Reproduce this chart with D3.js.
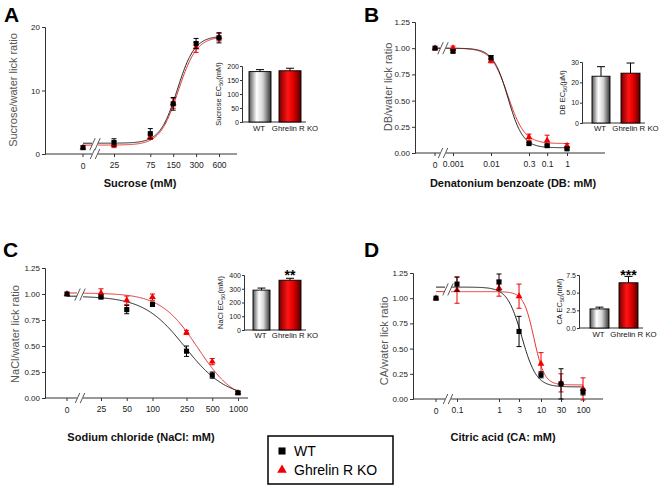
<!DOCTYPE html>
<html><head><meta charset="utf-8">
<script src="https://cdn.jsdelivr.net/npm/d3@7"></script>
<style>body{margin:0;background:#fff} svg{display:block;font-family:"Liberation Sans",Arial,sans-serif}</style>
</head><body><svg id="c" width="661" height="489"></svg>
<script>
// ---------- DATA ----------
const groups = ["WT", "Ghrelin R KO"];

// Panel A – sucrose
const sucroseConc = [0, 25, 75, 150, 300, 600];
const sucroseTickLabels = ["0", "25", "75", "150", "300", "600"];
const sucroseYTicks = [0, 10, 20];
const sucroseWT = [1.0, 1.8, 3.2, 7.9, 17.4, 18.3];
const sucroseWTErr = [0, 0.6, 0.8, 1.0, 0.8, 0.8];
const sucroseKO = [1.0, 1.5, 2.7, 8.0, 16.8, 18.4];
const sucroseKOErr = [0, 0.5, 0.4, 0.8, 0.8, 0.6];
const sucroseFitWT = [1.7, 18.6, 170, 3.8];   // low, high, EC50, hill
const sucroseFitKO = [1.4, 18.5, 175, 3.6];
const sucroseEC50 = [180, 183];
const sucroseEC50Err = [7, 9];
const sucroseEC50Ticks = [0, 50, 100, 150, 200];

// Panel B – denatonium benzoate
const dbConc = [0, 0.001, 0.01, 0.1, 0.3, 1];
const dbTickLabels = ["0", "0.001", "0.01", "0.3", "0.1", "1"];
const ratioYTicks = [0, 0.25, 0.5, 0.75, 1.0, 1.25];
const dbWT = [1.0, 0.97, 0.91, 0.09, 0.07, 0.04];
const dbWTErr = [0, 0.01, 0.02, 0.01, 0.01, 0.01];
const dbKO = [1.0, 1.0, 0.88, 0.15, 0.12, 0.07];
const dbKOErr = [0, 0.02, 0.02, 0.03, 0.05, 0.02];
const dbFitWT = [1.0, 0.05, 0.028, 2.2];
const dbFitKO = [1.0, 0.09, 0.028, 2.0];
const dbEC50 = [23, 24.5];
const dbEC50Err = [4.7, 5.0];
const dbEC50Ticks = [0, 10, 20, 30];

// Panel C – NaCl
const naclConc = [0, 25, 50, 100, 250, 500, 1000];
const naclTickLabels = ["0", "25", "50", "100", "250", "500", "1000"];
const naclWT = [1.0, 0.97, 0.85, 0.90, 0.45, 0.22, 0.05];
const naclWTErr = [0, 0.01, 0.04, 0.02, 0.05, 0.03, 0.01];
const naclKO = [1.0, 1.01, 0.94, 0.97, 0.63, 0.35, 0.05];
const naclKOErr = [0, 0.04, 0.04, 0.03, 0.02, 0.03, 0.01];
const naclFitWT = [0.98, 0.0, 240, 1.8];
const naclFitKO = [1.01, -0.05, 340, 2.0];
const naclEC50 = [290, 362];
const naclEC50Err = [15, 14];
const naclEC50Ticks = [0, 100, 200, 300, 400];

// Panel D – citric acid
const caConc = [0, 0.1, 1, 3, 10, 30, 100];
const caTickLabels = ["0", "0.1", "1", "3", "10", "30", "100"];
const caWT = [1.0, 1.14, 1.16, 0.67, 0.24, 0.15, 0.07];
const caWTErr = [0, 0.07, 0.08, 0.15, 0.03, 0.15, 0.03];
const caKO = [1.0, 1.08, 1.10, 1.02, 0.35, 0.16, 0.10];
const caKOErr = [0, 0.13, 0.08, 0.12, 0.11, 0.09, 0.11];
const caFitWT = [1.11, 0.12, 3.5, 2.5];
const caFitKO = [1.065, 0.14, 6.8, 3.5];
const caEC50 = [2.7, 6.4];
const caEC50Err = [0.25, 0.9];
const caEC50Ticks = [0, 2.5, 5.0, 7.5];

// ---------- DRAWING ----------
const RED = "#f00000", RED_LINE = "#e83030", AXIS = "#333";
const svg = d3.select("#c");
const defs = svg.append("defs");
function grad(id, stops) {
  const g = defs.append("linearGradient").attr("id", id)
    .attr("x1", "0%").attr("x2", "100%").attr("y1", "0%").attr("y2", "0%");
  stops.forEach(([o, c]) => g.append("stop").attr("offset", o).attr("stop-color", c));
}
grad("gWT", [[0, "#555"], [0.35, "#fff"], [0.62, "#d5d5d5"], [1, "#333"]]);
grad("gKO", [[0, "#700"], [0.4, "#ff1414"], [0.65, "#e00000"], [1, "#500"]]);

function logistic(p, c) {
  const [low, high, ec50, n] = p;
  return low + (high - low) / (1 + Math.pow(ec50 / c, n));
}

function styleAxis(sel, fs) {
  sel.select(".domain").attr("stroke", AXIS);
  sel.selectAll(".tick line").attr("stroke", AXIS);
  sel.selectAll(".tick text").attr("fill", "#222").attr("font-size", fs)
    .attr("font-family", '"Liberation Sans",Arial,sans-serif');
}

function breakMarks(g, bx, by, h) {
  [-2.5, 2.5].forEach(dx => {
    g.append("line").attr("x1", bx + dx - h * 0.45).attr("y1", by + h)
      .attr("x2", bx + dx + h * 0.45).attr("y2", by - h)
      .attr("stroke", "#444").attr("stroke-width", 0.9);
  });
}

function drawPanel(cfg, d) {
  const g = svg.append("g");
  const x = d3.scaleLog().domain([d.conc[1], d.conc[d.conc.length - 1]]).range(cfg.xr);
  const y = d3.scaleLinear().domain([0, d.yTicks[d.yTicks.length - 1]]).range(cfg.yr);
  const px = c => c === 0 ? cfg.zeroX : x(c);

  g.append("text").attr("x", cfg.letter[1]).attr("y", cfg.letter[2]).text(cfg.letter[0])
    .attr("font-size", 21).attr("font-weight", "bold").attr("fill", "#000");

  const ya = g.append("g").attr("transform", `translate(${cfg.yAxisX},0)`)
    .call(d3.axisLeft(y).tickValues(d.yTicks).tickFormat(d.yFmt).tickSize(3).tickPadding(2));
  styleAxis(ya, 8);

  const ay = y(0);
  g.append("line").attr("x1", cfg.yAxisX).attr("x2", cfg.breakX - 3).attr("y1", ay).attr("y2", ay).attr("stroke", AXIS);
  g.append("line").attr("x1", cfg.breakX + 3).attr("x2", cfg.axisEnd).attr("y1", ay).attr("y2", ay).attr("stroke", AXIS);
  breakMarks(g, cfg.breakX, ay, 5);

  const xa = g.append("g").attr("transform", `translate(0,${ay})`)
    .call(d3.axisBottom(x).tickValues(d.conc.slice(1)).tickFormat((v, i) => d.labels[i + 1]).tickSize(3).tickPadding(5));
  xa.select(".domain").remove();
  styleAxis(xa, 8.5);
  g.append("line").attr("x1", cfg.zeroX).attr("x2", cfg.zeroX).attr("y1", ay).attr("y2", ay + 3).attr("stroke", AXIS);
  g.append("text").attr("x", cfg.zeroX).attr("y", ay + 14.5).attr("text-anchor", "middle")
    .attr("font-size", 8.5).attr("fill", "#222").text(d.labels[0]);

  // titles
  g.append("text").attr("transform", `translate(${cfg.yTitle[0]},${cfg.yTitle[1]}) rotate(-90)`)
    .attr("text-anchor", "middle").attr("font-size", 11).attr("fill", "#555").text(d.yTitle);
  g.append("text").attr("x", cfg.xTitle[0]).attr("y", cfg.xTitle[1]).attr("text-anchor", "middle")
    .attr("font-size", 11).attr("font-weight", "bold").attr("fill", "#111").text(d.xTitle);

  // fitted curves
  const cStart = x.invert(cfg.breakX + 3);
  const cEnd = d.conc[d.conc.length - 1];
  const samples = d3.range(0, 201).map(i => Math.exp(Math.log(cStart) + (Math.log(cEnd) - Math.log(cStart)) * i / 200));
  const series = [
    { fit: d.fitKO, color: RED_LINE },
    { fit: d.fitWT, color: "#222" }
  ];
  const leftLevels = [];
  series.forEach(s => {
    const pts = samples.map(c => [x(c), y(logistic(s.fit, c))]);
    g.append("path").attr("d", d3.line()(pts)).attr("fill", "none").attr("stroke", s.color).attr("stroke-width", 1);
    const lv = y(logistic(s.fit, cStart / 3));
    leftLevels.push(lv);
    g.append("line").attr("x1", cfg.zeroX).attr("x2", cfg.breakX - 3).attr("y1", lv).attr("y2", lv)
      .attr("stroke", s.color).attr("stroke-width", 1);
  });
  breakMarks(g, cfg.breakX, d3.mean(leftLevels), 6);

  // points with error bars
  const drawSeries = (vals, errs, color, symbol) => {
    vals.forEach((v, i) => {
      const cx = px(d.conc[i]);
      const e = errs[i];
      if (e > 0) {
        g.append("line").attr("x1", cx).attr("x2", cx).attr("y1", y(v - e)).attr("y2", y(v + e)).attr("stroke", color).attr("stroke-width", 1);
        [v - e, v + e].forEach(t => g.append("line").attr("x1", cx - 2.5).attr("x2", cx + 2.5)
          .attr("y1", y(t)).attr("y2", y(t)).attr("stroke", color).attr("stroke-width", 1));
      }
      g.append("path").attr("d", d3.symbol().type(symbol).size(symbol === d3.symbolSquare ? 26 : 20)())
        .attr("transform", `translate(${cx},${y(v)})`).attr("fill", color);
    });
  };
  drawSeries(d.ko, d.koErr, RED, d3.symbolTriangle);
  drawSeries(d.wt, d.wtErr, "#000", d3.symbolSquare);
}

function drawInset(cfg, vals, errs, ticks, fmt, label, stars) {
  const g = svg.append("g");
  const y = d3.scaleLinear().domain([0, ticks[ticks.length - 1]]).range(cfg.yr);
  const ya = g.append("g").attr("transform", `translate(${cfg.axisX},0)`)
    .call(d3.axisLeft(y).tickValues(ticks).tickFormat(d3.format(fmt)).tickSize(2).tickPadding(1));
  styleAxis(ya, 7);
  g.append("line").attr("x1", cfg.axisX).attr("x2", cfg.xEnd).attr("y1", y(0)).attr("y2", y(0)).attr("stroke", AXIS);
  const labelShift = [-1, 5];
  vals.forEach((v, i) => {
    const [bx, bw] = cfg.bars[i];
    const cx = bx + bw / 2;
    g.append("line").attr("x1", cx).attr("x2", cx).attr("y1", y(v)).attr("y2", y(v + errs[i])).attr("stroke", "#000");
    g.append("line").attr("x1", cx - 4).attr("x2", cx + 4).attr("y1", y(v + errs[i])).attr("y2", y(v + errs[i])).attr("stroke", "#000");
    g.append("rect").attr("x", bx).attr("y", y(v)).attr("width", bw).attr("height", y(0) - y(v))
      .attr("fill", i === 0 ? "url(#gWT)" : "url(#gKO)").attr("stroke", "#000").attr("stroke-width", 0.9);
    g.append("text").attr("x", cx + labelShift[i]).attr("y", cfg.labelsY).attr("text-anchor", "middle")
      .attr("font-size", 7.8).attr("fill", "#111").text(groups[i]);
  });
  const t = g.append("text").attr("transform", `translate(${cfg.ylabelX},${(cfg.yr[0] + cfg.yr[1]) / 2}) rotate(-90)`)
    .attr("text-anchor", "middle").attr("font-size", 7.5).attr("fill", "#222");
  t.append("tspan").text(label[0]);
  t.append("tspan").attr("dy", 2).attr("font-size", 5.5).text("50");
  t.append("tspan").attr("dy", -2).text(label[1]);
  if (stars) {
    const [bx, bw] = cfg.bars[1];
    g.append("text").attr("x", bx + bw / 2).attr("y", cfg.starsY).attr("text-anchor", "middle")
      .attr("font-size", 14).attr("font-weight", "bold").attr("fill", "#000").text(stars);
  }
}

// Panel A
drawPanel({ letter: ["A", 4, 22], yAxisX: 45, yr: [154, 27], axisEnd: 237, zeroX: 83, breakX: 95, xr: [114, 219],
  yTitle: [17, 90], xTitle: [140, 187] },
  { conc: sucroseConc, labels: sucroseTickLabels, yTicks: sucroseYTicks, yFmt: d3.format("d"),
    wt: sucroseWT, wtErr: sucroseWTErr, ko: sucroseKO, koErr: sucroseKOErr, fitWT: sucroseFitWT, fitKO: sucroseFitKO,
    yTitle: "Sucrose/water lick ratio", xTitle: "Sucrose (mM)" });
drawInset({ axisX: 242, yr: [122, 66], bars: [[249, 22], [279, 22]], xEnd: 306, labelsY: 131, ylabelX: 221 },
  sucroseEC50, sucroseEC50Err, sucroseEC50Ticks, "d", ["Sucrose  EC", "(mM)"], null);

// Panel B
drawPanel({ letter: ["B", 364, 22], yAxisX: 415, yr: [153, 22], axisEnd: 605, zeroX: 435, breakX: 443, xr: [453, 567],
  yTitle: [392, 87], xTitle: [513, 187] },
  { conc: dbConc, labels: dbTickLabels, yTicks: ratioYTicks, yFmt: d3.format(".2f"),
    wt: dbWT, wtErr: dbWTErr, ko: dbKO, koErr: dbKOErr, fitWT: dbFitWT, fitKO: dbFitKO,
    yTitle: "DB/water lick ratio", xTitle: "Denatonium benzoate (DB: mM)" });
drawInset({ axisX: 582, yr: [123, 62], bars: [[592, 18], [621, 19]], xEnd: 645, labelsY: 131, ylabelX: 565 },
  dbEC50, dbEC50Err, dbEC50Ticks, "d", ["DB  EC", "(µM)"], null);

// Panel C
drawPanel({ letter: ["C", 3, 257], yAxisX: 45, yr: [398, 268], axisEnd: 248, zeroX: 67, breakX: 80, xr: [101, 238],
  yTitle: [19, 334], xTitle: [141, 441] },
  { conc: naclConc, labels: naclTickLabels, yTicks: ratioYTicks, yFmt: d3.format(".2f"),
    wt: naclWT, wtErr: naclWTErr, ko: naclKO, koErr: naclKOErr, fitWT: naclFitWT, fitKO: naclFitKO,
    yTitle: "NaCl/water lick ratio", xTitle: "Sodium chloride (NaCl: mM)" });
drawInset({ axisX: 244, yr: [330, 275], bars: [[253, 17], [279, 22]], xEnd: 306, labelsY: 338, ylabelX: 223, starsY: 280 },
  naclEC50, naclEC50Err, naclEC50Ticks, "d", ["NaCl EC", "(mM)"], "**");

// Panel D
drawPanel({ letter: ["D", 364, 257], yAxisX: 413, yr: [399, 273], axisEnd: 603, zeroX: 436, breakX: 448, xr: [457, 583],
  yTitle: [388, 341], xTitle: [503, 441] },
  { conc: caConc, labels: caTickLabels, yTicks: ratioYTicks, yFmt: d3.format(".2f"),
    wt: caWT, wtErr: caWTErr, ko: caKO, koErr: caKOErr, fitWT: caFitWT, fitKO: caFitKO,
    yTitle: "CA/water lick ratio", xTitle: "Citric acid (CA: mM)" });
drawInset({ axisX: 579, yr: [328, 275], bars: [[590, 19], [619, 19]], xEnd: 643, labelsY: 337, ylabelX: 562, starsY: 280 },
  caEC50, caEC50Err, caEC50Ticks, ".1f", ["CA  EC", "(mM)"], "***");

// Legend
const lg = svg.append("g");
lg.append("rect").attr("x", 268).attr("y", 436).attr("width", 125).attr("height", 48)
  .attr("fill", "#fff").attr("stroke", "#000").attr("stroke-width", 1.5);
lg.append("path").attr("d", d3.symbol().type(d3.symbolSquare).size(50)()).attr("transform", "translate(282,451)").attr("fill", "#000");
lg.append("path").attr("d", d3.symbol().type(d3.symbolTriangle).size(40)()).attr("transform", "translate(282,470)").attr("fill", RED);
lg.append("text").attr("x", 294).attr("y", 456).attr("font-size", 14).attr("fill", "#000").text(groups[0]);
lg.append("text").attr("x", 294).attr("y", 475).attr("font-size", 14).attr("fill", "#000").text(groups[1]);
</script></body></html>
